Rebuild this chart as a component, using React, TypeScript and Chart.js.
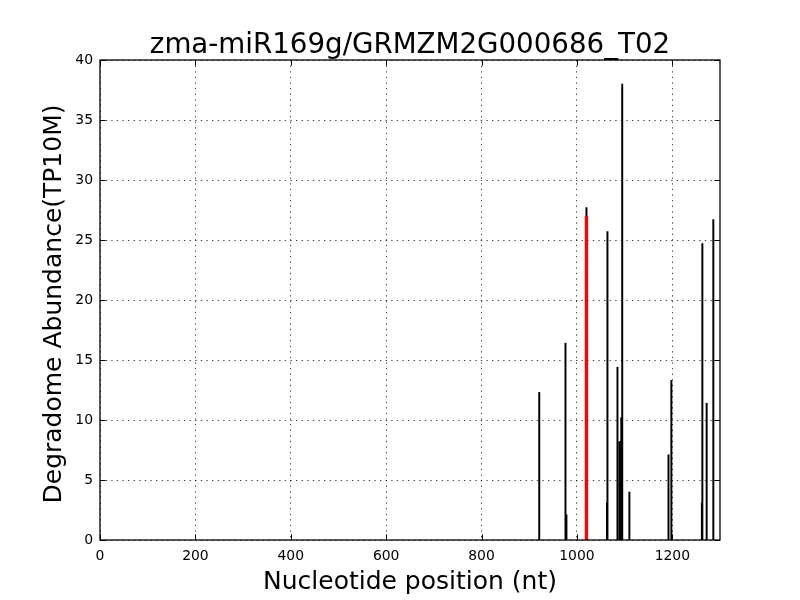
import React, { useEffect, useRef } from "react";
import { Chart, registerables } from "chart.js";

Chart.register(...registerables);

const TITLE = "zma-miR169g/GRMZM2G000686_T02";
const X_LABEL = "Nucleotide position (nt)";
const Y_LABEL = "Degradome Abundance(TP10M)";

const positions = [921, 976, 978, 1019, 1020, 1063, 1064, 1085, 1089, 1091, 1093, 1095, 1110, 1192, 1198, 1262, 1263, 1272, 1286];
const abundances = [12.3, 16.4, 2.1, 1.0, 27.7, 3.1, 25.7, 14.4, 8.2, 8.2, 10.2, 38.0, 4.0, 7.1, 13.3, 3.1, 24.7, 11.4, 26.7];

const targetPositions = [1020];
const targetAbundances = [27.0];

const xTicks = [0, 200, 400, 600, 800, 1000, 1200];
const yTicks = [0, 5, 10, 15, 20, 25, 30, 35, 40];
const X_MIN = 0;
const X_MAX = 1300;
const Y_MIN = 0;
const Y_MAX = 40;

const FONT = "'DejaVu Sans', sans-serif";

const framePlugin = {
  id: "frame",
  afterDatasetsDraw(chart: any) {
    const { ctx, chartArea } = chart;
    const { left, right, top, bottom } = chartArea;
    const xs = chart.scales.x;
    const ys = chart.scales.y;
    const tl = 5.6;
    ctx.save();
    ctx.strokeStyle = "#000";
    ctx.lineWidth = 1;
    ctx.beginPath();
    xs.ticks.forEach((t: any) => {
      const px = Math.round(xs.getPixelForValue(t.value)) + 0.5;
      ctx.moveTo(px, bottom);
      ctx.lineTo(px, bottom - tl);
      ctx.moveTo(px, top);
      ctx.lineTo(px, top + tl);
    });
    ys.ticks.forEach((t: any) => {
      const py = Math.round(ys.getPixelForValue(t.value)) + 0.5;
      ctx.moveTo(left, py);
      ctx.lineTo(left + tl, py);
      ctx.moveTo(right, py);
      ctx.lineTo(right - tl, py);
    });
    ctx.stroke();
    ctx.lineWidth = 1.3;
    ctx.strokeRect(left, top, right - left, bottom - top);
    ctx.restore();
  },
  afterDraw(chart: any) {
    const { ctx, chartArea } = chart;
    ctx.save();
    ctx.fillStyle = "#000";
    ctx.font = `27.7px ${FONT}`;
    ctx.textAlign = "center";
    ctx.textBaseline = "alphabetic";
    ctx.fillText(TITLE, (chartArea.left + chartArea.right) / 2, 53);
    ctx.font = `25px ${FONT}`;
    ctx.translate(61, (chartArea.top + chartArea.bottom) / 2 + 4);
    ctx.rotate(-Math.PI / 2);
    ctx.fillText(Y_LABEL, 0, 0);
    ctx.restore();
  },
};

export default function App() {
  const ref = useRef<HTMLCanvasElement | null>(null);

  useEffect(() => {
    if (!ref.current) return;
    const chart = new Chart(ref.current, {
      type: "bar",
      data: {
        datasets: [
          {
            label: "target",
            data: targetPositions.map((x, i) => ({ x, y: targetAbundances[i] })),
            backgroundColor: "#ff0000",
            barThickness: 2.7,
            grouped: false,
            order: 0,
          } as any,
          {
            label: "abundance",
            data: positions.map((x, i) => ({ x, y: abundances[i] })),
            backgroundColor: "#000000",
            barThickness: 1.3,
            grouped: false,
            order: 1,
          } as any,
        ],
      },
      options: {
        responsive: false,
        animation: false,
        devicePixelRatio: 1,
        layout: { padding: { top: 60, right: 80, left: 0, bottom: 0 } },
        plugins: {
          legend: { display: false },
          tooltip: { enabled: false },
          title: { display: false },
        },
        scales: {
          x: {
            type: "linear",
            min: X_MIN,
            max: X_MAX,
            offset: false,
            afterBuildTicks: (s: any) => {
              s.ticks = xTicks.map((v) => ({ value: v }));
            },
            afterFit: (s: any) => {
              s.height = 60;
            },
            ticks: {
              color: "#000",
              font: { family: FONT, size: 13.9 },
              padding: 8,
              maxRotation: 0,
              autoSkip: false,
              callback: (v: any) => String(v),
            },
            grid: {
              color: "#000",
              lineWidth: 0.7,
              drawTicks: false,
              offset: false,
            },
            border: { display: false, dash: [1.4, 4.2] },
            title: {
              display: true,
              text: X_LABEL,
              color: "#000",
              font: { family: FONT, size: 25, lineHeight: 1 },
              padding: { top: 0, bottom: 5 },
            },
          },
          y: {
            type: "linear",
            min: Y_MIN,
            max: Y_MAX,
            afterBuildTicks: (s: any) => {
              s.ticks = yTicks.map((v) => ({ value: v }));
            },
            afterFit: (s: any) => {
              s.width = 100;
            },
            ticks: {
              color: "#000",
              font: { family: FONT, size: 13.9 },
              padding: 7,
              autoSkip: false,
              callback: (v: any) => String(v),
            },
            grid: {
              color: "#000",
              lineWidth: 0.7,
              drawTicks: false,
            },
            border: { display: false, dash: [1.4, 4.2] },
            title: { display: false },
          },
        },
      },
      plugins: [framePlugin],
    } as any);
    return () => chart.destroy();
  }, []);

  return (
    <div style={{ position: "absolute", left: 0, top: 0, width: 800, height: 600, background: "#fff" }}>
      <canvas ref={ref} width={800} height={600} style={{ width: 800, height: 600, display: "block" }} />
    </div>
  );
}
